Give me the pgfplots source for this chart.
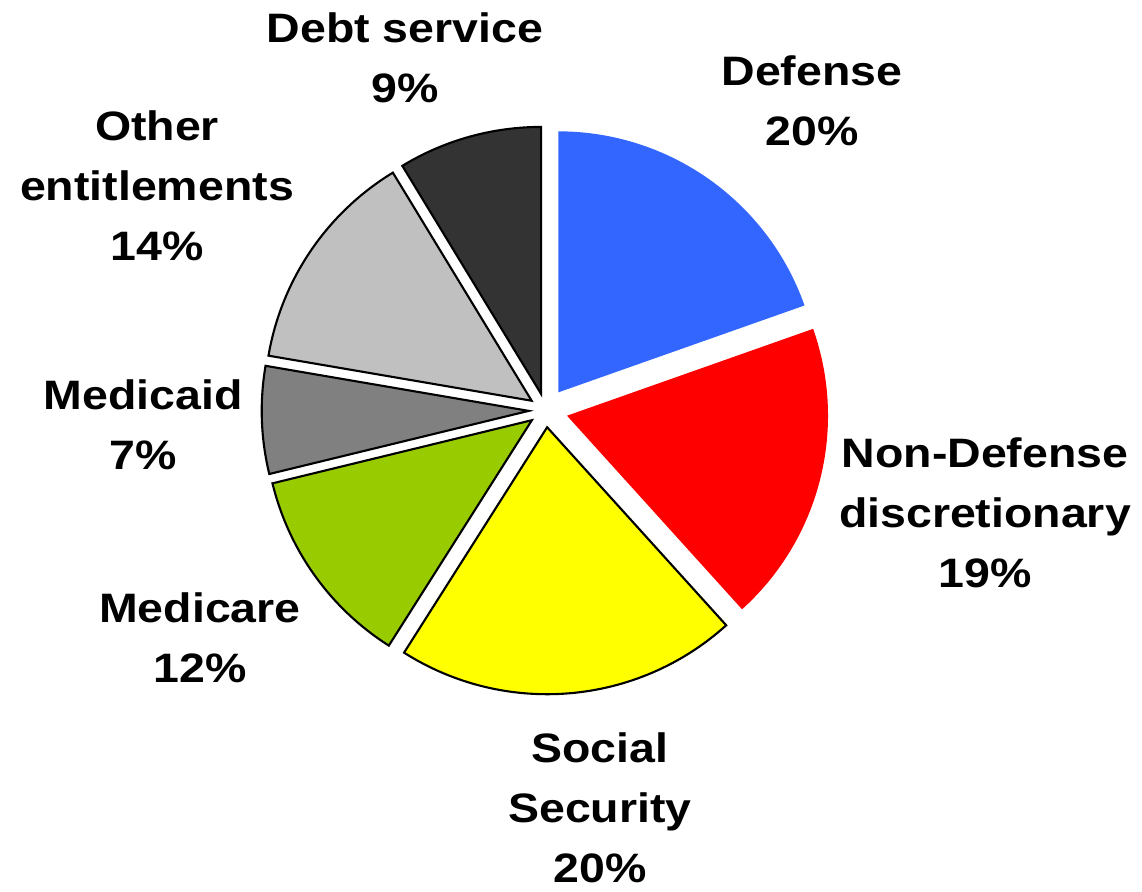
\documentclass[border=0pt]{standalone}
\usepackage{pgfplots}
\pgfplotsset{compat=1.18}
\usepackage{pgfplotstable}
\usepackage{fontspec}
\setmainfont{Liberation Sans}[FakeStretch=1.13]

\definecolor{cDef}{RGB}{51,102,255}
\definecolor{cNon}{RGB}{255,0,0}
\definecolor{cSS}{RGB}{255,255,0}
\definecolor{cMcr}{RGB}{153,204,0}
\definecolor{cMcd}{RGB}{128,128,128}
\definecolor{cOth}{RGB}{192,192,192}
\definecolor{cDebt}{RGB}{51,51,51}

\tikzset{lab/.style={font=\bfseries\fontsize{11.7}{17}\selectfont, align=center, inner sep=0pt}}

% share of spending (percent), clockwise from 12 o'clock
% explode / radius in picture units (1 unit = 0.1 mm)
\pgfplotstableread{
value explode radius
19.6  22      261
18.7  22      261
20.7  17      267
12.2  17      267
6.5   17      267
13.6  17      267
8.7   17      267
}\piedata

\def\cx{545.7}
\def\cy{480.7}

\begin{document}
\begin{tikzpicture}
% angles and offsets of the slices, worked out from the table
\def\cum{0}
\pgfplotsforeachungrouped \i in {0,...,6}{%
  \pgfplotstablegetelem{\i}{value}\of\piedata \let\v\pgfplotsretval
  \pgfplotstablegetelem{\i}{explode}\of\piedata \let\e\pgfplotsretval
  \pgfplotstablegetelem{\i}{radius}\of\piedata \let\r\pgfplotsretval
  \pgfmathsetmacro\aone{90-3.6*\cum}%
  \pgfmathsetmacro\atwo{90-3.6*(\cum+\v)}%
  \pgfmathsetmacro\amid{(\aone+\atwo)/2}%
  \pgfmathsetmacro\px{\cx+\e*cos(\amid)}%
  \pgfmathsetmacro\py{\cy+\e*sin(\amid)}%
  \pgfmathsetmacro\rr{\r/10}%
  \expandafter\xdef\csname pa\i\endcsname{\aone}%
  \expandafter\xdef\csname pb\i\endcsname{\atwo}%
  \expandafter\xdef\csname px\i\endcsname{\px}%
  \expandafter\xdef\csname py\i\endcsname{\py}%
  \expandafter\xdef\csname pr\i\endcsname{\rr}%
  \pgfmathsetmacro\cum{\cum+\v}%
}
\begin{axis}[
  scale only axis,
  width=11.42cm, height=8.91cm,
  xmin=0, xmax=1142, ymin=0, ymax=891,
  hide axis, clip=false,
]
\pgfplotsinvokeforeach{0,1}{
  \fill[fill=\ifcase#1 cDef\or cNon\fi]
    (axis cs:\csname px#1\endcsname,\csname py#1\endcsname)
    -- ++(\csname pa#1\endcsname:\csname pr#1\endcsname mm)
    arc[start angle=\csname pa#1\endcsname, end angle=\csname pb#1\endcsname, radius=\csname pr#1\endcsname mm]
    -- cycle;
}
\pgfplotsinvokeforeach{2,...,6}{
  \filldraw[line width=0.6pt, draw=black, line join=miter,
    fill=\ifcase#1 \or \or cSS\or cMcr\or cMcd\or cOth\or cDebt\fi]
    (axis cs:\csname px#1\endcsname,\csname py#1\endcsname)
    -- ++(\csname pa#1\endcsname:\csname pr#1\endcsname mm)
    arc[start angle=\csname pa#1\endcsname, end angle=\csname pb#1\endcsname, radius=\csname pr#1\endcsname mm]
    -- cycle;
}
\node[lab] at (axis cs:812,790) {Defense\\20\%};
\node[lab] at (axis cs:985,378) {Non-Defense\\discretionary\\19\%};
\node[lab] at (axis cs:600,83)  {Social\\Security\\20\%};
\node[lab] at (axis cs:200,253) {Medicare\\12\%};
\node[lab] at (axis cs:143,466) {Medicaid\\7\%};
\node[lab] at (axis cs:157,705) {Other\\entitlements\\14\%};
\node[lab] at (axis cs:405,833) {Debt service\\9\%};
\end{axis}
\pgfresetboundingbox
\path (current axis.south west) rectangle (current axis.north east);
\end{tikzpicture}
\end{document}
